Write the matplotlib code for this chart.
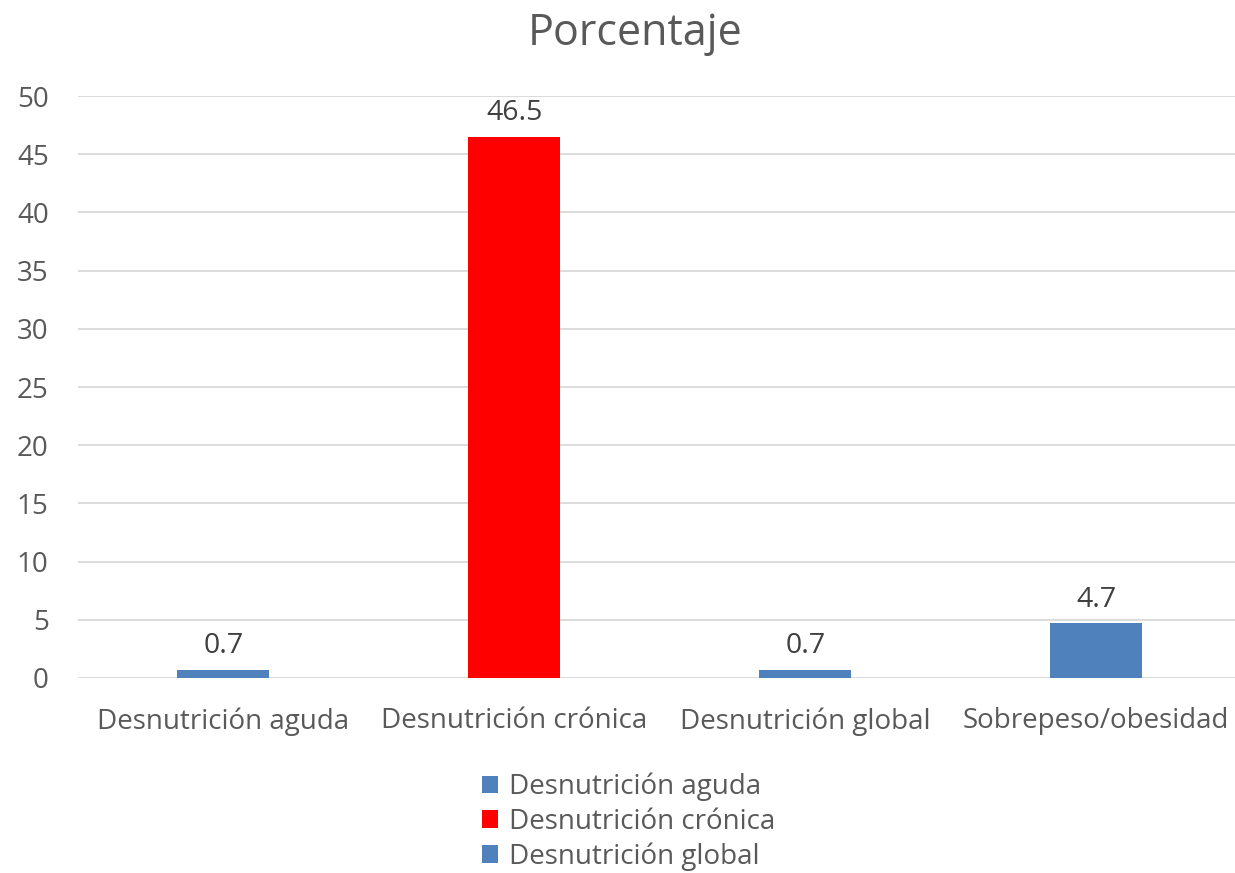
import matplotlib.pyplot as plt
from matplotlib.patches import Patch

# Datos del gráfico
categorias = ['Desnutrición aguda', 'Desnutrición crónica', 'Desnutrición global', 'Sobrepeso/obesidad']
porcentajes = [0.7, 46.5, 0.7, 4.7]
etiquetas = ['0.7', '46.5', '0.7', '4.7']
colores = ['#4F81BD', '#FF0000', '#4F81BD', '#4F81BD']
leyenda = ['Desnutrición aguda', 'Desnutrición crónica', 'Desnutrición global']
leyenda_colores = ['#4F81BD', '#FF0000', '#4F81BD']
ticks_y = [0, 5, 10, 15, 20, 25, 30, 35, 40, 45, 50]

plt.rcParams['font.family'] = ['Open Sans', 'DejaVu Sans']
gris = '#595959'

fig = plt.figure(figsize=(12.35, 8.73), dpi=100)
ax = fig.add_axes([0.063, 0.2234, 0.9425, 0.6666])

x = range(len(categorias))
barras = ax.bar(x, porcentajes, width=0.315, color=colores, zorder=3)
ax.bar_label(barras, labels=etiquetas, padding=7, fontsize=20.5, color='#404040')

ax.set_xlim(-0.5, len(categorias) - 0.5)
ax.set_ylim(0, 50)
ax.set_yticks(ticks_y)
ax.set_xticks(list(x))
ax.set_xticklabels(categorias)
ax.tick_params(axis='both', length=0, labelsize=20, colors=gris)
ax.tick_params(axis='x', pad=21)
ax.tick_params(axis='y', pad=21)

ax.grid(axis='y', color='#D9D9D9', linewidth=1.3, zorder=0)
for s in ax.spines.values():
    s.set_visible(False)

fig.text(0.514, 0.961, 'Porcentaje', ha='center', va='center', fontsize=31, color=gris)

# Leyenda
handles = [Patch(facecolor=c) for c in leyenda_colores]
fig.legend(handles, leyenda, loc='center', bbox_to_anchor=(0.509, 0.0585),
           frameon=False, fontsize=20, labelcolor=gris, handlelength=0.6,
           handleheight=0.6, handletextpad=0.4, labelspacing=0.24, borderaxespad=0)

fig.savefig('out.png', dpi=100)
